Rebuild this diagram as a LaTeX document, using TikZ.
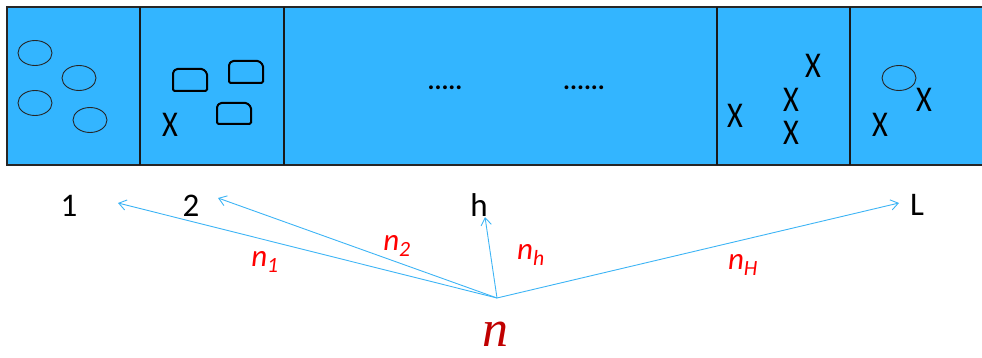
\documentclass[tikz,border=0pt]{standalone}
\usepackage{fontspec}
\setmainfont{Carlito}
\newfontfamily\serifit{Liberation Serif}
\usetikzlibrary{arrows.meta}
\definecolor{cellblue}{HTML}{33B5FF}
\definecolor{arrblue}{HTML}{3DB4F5}
\definecolor{lblred}{HTML}{FF0000}
\definecolor{darkred}{HTML}{C00000}
\tikzset{
  x=1pt,y=-1pt,
  blob/.style={draw=black!85,line width=0.9pt},
  chip/.style={draw=black,line width=2pt,rounded corners=1.5pt},
  cross/.style={inner sep=0pt,font=\fontsize{33}{33}\selectfont,xscale=0.92,yscale=1.1},
  numlbl/.style={inner sep=0pt,font=\fontsize{33}{33}\selectfont},
  redlbl/.style={inner sep=0pt,text=lblred,font=\fontsize{31}{31}\selectfont\itshape},
  dotrow/.style={inner sep=0pt,font=\fontsize{26}{26}\selectfont\bfseries},
  vec/.style={draw=arrblue,line width=0.9pt,-{Straight Barb[angle=70:9pt]}},
  divider/.style={draw=black!90,line width=2pt}
}
\begin{document}
\begin{tikzpicture}
\useasboundingbox (0,0) rectangle (982,358);
% strip
\fill[cellblue] (7,7) rectangle (982,165);
\draw[black!85,line width=1.6pt] (982,7) -- (7,7) -- (7,165) -- (982,165);
\foreach \xx in {140,284,717,850}{\draw[divider] (\xx,7) -- (\xx,165);}
% cell 1
\draw[blob] (35,53) ellipse (17 and 12.5);
\draw[blob] (79,78) ellipse (17 and 12.5);
\draw[blob] (35,103) ellipse (17 and 12.5);
\draw[blob] (90,120) ellipse (17 and 12.5);
% cell 2
\draw[chip] (173,91) -- (173,72) -- (176,69) -- (203,69) -- (207,73) -- (207,91) -- cycle;
\draw[chip] (229,83) -- (229,64) -- (232,61) -- (259,61) -- (263,65) -- (263,83) -- cycle;
\draw[chip] (217,124) -- (217,106) -- (220,103) -- (247,103) -- (251,107) -- (251,124) -- cycle;
\node[cross] (x1) at (170,125) {X};
% middle dots
\node[dotrow] (d1) at (445,88) {.....};
\node[dotrow] (d2) at (584,88) {......};
% cell 4
\node[cross] (x2) at (813,66) {X};
\node[cross] (x3) at (791,100) {X};
\node[cross] (x4) at (791,133) {X};
\node[cross] (x5) at (735,116) {X};
% cell 5
\draw[blob] (899,78) ellipse (17 and 12.5);
\node[cross] (x6) at (924,100) {X};
\node[cross] (x7) at (880,125) {X};
% labels
\node[numlbl] (l1) at (69,206) {1};
\node[numlbl] (l2) at (191,206) {2};
\node[numlbl] (lh) at (479,205) {h};
\node[numlbl] (lL) at (917,205) {L};
% vectors
\coordinate (o) at (497,298);
\coordinate (t1) at (118,203);
\coordinate (t2) at (218,198);
\coordinate (th) at (485,217);
\coordinate (tL) at (899,203);
\draw[vec] (o) -- (t1);
\draw[vec] (o) -- (t2);
\draw[vec] (o) -- (th);
\draw[vec] (o) -- (tL);
\node[redlbl] (n1) at (265,262) {n\textsubscript{1}};
\node[redlbl] (n2) at (397,246) {n\textsubscript{2}};
\node[redlbl] (nh) at (531,255) {n\textsubscript{h}};
\node[redlbl] (nH) at (743,265) {n\textsubscript{H}};
\node[inner sep=0pt,text=darkred,font=\fontsize{52}{52}\selectfont\serifit\itshape] (n) at (495,334) {n};
\end{tikzpicture}
\end{document}
